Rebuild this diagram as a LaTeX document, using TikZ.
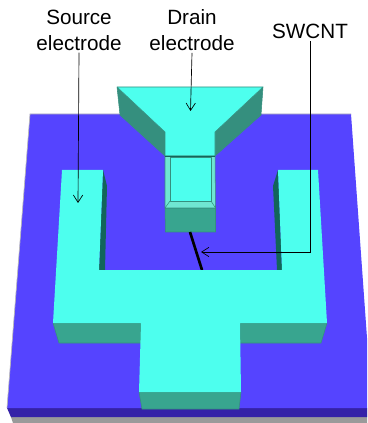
\documentclass[tikz,border=0pt]{standalone}
\usepackage{fontspec}
\setmainfont{Liberation Sans}
\usetikzlibrary{arrows.meta}
\definecolor{padtop}{HTML}{4DFFEE}
\definecolor{padfront}{HTML}{38A58F}
\definecolor{padside}{HTML}{358F7E}
\definecolor{paddark}{HTML}{12655A}
\definecolor{padrim}{HTML}{6FE6D2}
\definecolor{subtop}{HTML}{5544FF}
\definecolor{subfront}{HTML}{3522A8}
\definecolor{subbase}{HTML}{9A9A9A}
\tikzset{
  lbl/.style={font=\fontsize{15.5}{19.5}\selectfont, align=center, text=black, inner sep=0pt},
  lead/.style={draw=black, line width=0.5pt, -{Straight Barb[length=5.5pt,width=7pt]}},
  edge/.style={draw=padside, line width=0.4pt, line join=round}
}
\begin{document}
\begin{tikzpicture}[x=0.75pt,y=-0.75pt]
    \useasboundingbox (0,0) rectangle (367,423);
    \clip (0,0) rectangle (367,423);

    % Substrate
    \fill[subbase] (8,408) -- (372,408) -- (372,423) -- (13,423) -- cycle;
    \fill[subfront] (7,408) -- (372,408) -- (372,417) -- (11,417) -- cycle;
    \fill[subtop] (30,114) -- (351,114) -- (372,408) -- (7,408) -- cycle;
    \draw[subbase!70, line width=0.5pt] (7,408) -- (30,114) -- (351,114);

    % Drain electrode
    \filldraw[edge, fill=padside] (117,87) -- (165,132) -- (165,156) -- (120,115) -- cycle;
    \filldraw[edge, fill=padside] (263,87) -- (215,132) -- (215,156) -- (261,115) -- cycle;
    \filldraw[edge, fill=padtop] (117,87) -- (263,87) -- (215,132) -- (215,156) -- (165,156) -- (165,132) -- cycle;
    \filldraw[edge, fill=padfront] (165,208) -- (215.5,208) -- (215.5,232) -- (165.5,232) -- cycle;
    \filldraw[edge, fill=padrim] (165,156) -- (215,156) -- (215.5,208) -- (165,208) -- cycle;
    \filldraw[edge, fill=padtop] (170,157) -- (211,157) -- (211,201) -- (170,201) -- cycle;
    \draw[edge] (165,208) -- (170,201) (215.5,208) -- (211,201);
    \draw[paddark, line width=0.6pt] (165,156) -- (215,156);

    % Nanotube
    \coordinate (tubetop) at (190,232);
    \coordinate (tubebot) at (202,270);
    \coordinate (tubemid) at (201,252);
    \draw[black, line width=2pt] (tubetop) -- (tubebot);

    % Source electrode
    \fill[paddark] (103,170) -- (107,186) -- (105,270) -- (99,270) -- cycle;
    \fill[paddark] (278,170) -- (273,186) -- (277,270) -- (282,270) -- cycle;
    \filldraw[edge, fill=padfront] (53,323) -- (141,323) -- (141,343) -- (59,343) -- cycle;
    \filldraw[edge, fill=padfront] (240,323) -- (327,323) -- (321,343) -- (240,343) -- cycle;
    \filldraw[edge, fill=padfront] (139,392) -- (241,392) -- (239,409) -- (142,409) -- cycle;
    \fill[padtop] (62,170) -- (103,170) -- (99,270) -- (282,270) -- (278,170) -- (318,170)
        -- (327,323) -- (240,323) -- (241,392) -- (139,392) -- (141,323) -- (53,323) -- cycle;

    % Labels
    \node[lbl] (source) at (79,30) {Source\\electrode};
    \node[lbl] (drain) at (192,30) {Drain\\electrode};
    \node[lbl] (swcnt) at (310,31) {SWCNT};
    \coordinate (sourcepad) at (78,203);
    \coordinate (drainpad) at (190.5,111);

    % Leaders
    \draw[lead] ([yshift=-1.5pt]source.south) -- (sourcepad);
    \draw[lead] ([yshift=-1.5pt]drain.south) -- (drainpad);
    \draw[lead] ([yshift=-2pt]swcnt.south) |- (tubemid);
\end{tikzpicture}
\end{document}
